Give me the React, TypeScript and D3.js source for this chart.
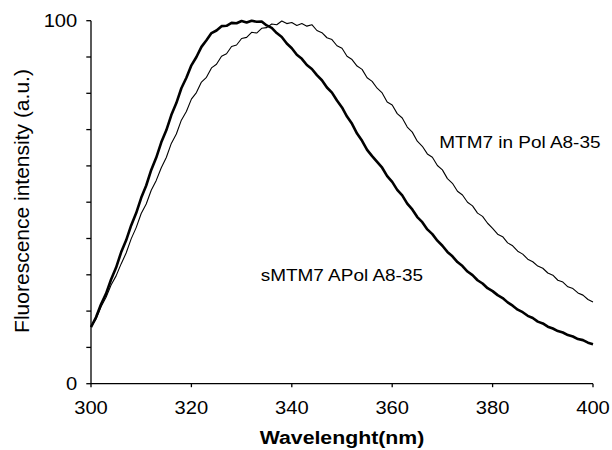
import React from "react";
import * as d3 from "d3";

const wavelengths: number[] = d3.range(300, 401, 1);

const sMTM7APol: number[] = [
  15.6, 18.3, 21.9, 24.8, 28.7, 32.0, 36.2, 39.5, 43.6, 47.0,
  51.2, 54.6, 58.9, 62.3, 66.5, 69.8, 74.0, 77.3, 81.4, 84.3,
  87.7, 90.0, 92.8, 94.6, 96.6, 97.3, 98.5, 98.6, 99.4, 99.3,
  99.9, 99.5, 100, 99.7, 99.8, 98.7, 98.0, 96.6, 95.5, 93.7,
  92.4, 90.6, 89.5, 87.8, 86.7, 85.0, 83.6, 81.6, 80.2, 78.0,
  76.1, 73.6, 71.6, 68.9, 66.9, 64.4, 62.7, 61.1, 59.5, 57.2,
  55.6, 53.4, 51.9, 49.6, 48.0, 45.9, 44.5, 42.5, 41.2, 39.4,
  38.0, 36.3, 35.1, 33.5, 32.4, 30.9, 29.9, 28.5, 27.6, 26.3,
  25.5, 24.4, 23.6, 22.4, 21.5, 20.4, 19.7, 18.7, 18.1, 17.1,
  16.6, 15.7, 15.2, 14.5, 14.1, 13.4, 13.0, 12.3, 12.0, 11.3,
  10.9,
];

const MTM7inPol: number[] = [
  15.6, 17.8, 21.2, 23.8, 27.2, 29.7, 33.0, 36.0, 39.9, 43.0,
  46.9, 49.5, 53.3, 56.0, 59.5, 62.3, 66.2, 68.8, 72.6, 75.0,
  78.4, 80.2, 83.1, 84.4, 87.0, 88.0, 90.2, 90.9, 92.9, 93.3,
  95.1, 95.4, 96.8, 96.6, 97.9, 98.1, 99.1, 98.9, 99.9, 99.2,
  99.5, 98.7, 99.2, 98.5, 98.9, 97.3, 96.7, 95.3, 94.8, 93.1,
  92.4, 90.2, 89.3, 87.5, 86.6, 84.3, 83.3, 81.4, 80.1, 77.6,
  76.8, 74.4, 73.2, 70.7, 69.3, 66.8, 65.4, 63.3, 62.4, 60.1,
  58.9, 56.5, 55.2, 53.0, 52.0, 50.0, 49.0, 47.0, 46.1, 44.2,
  42.8, 41.2, 40.5, 38.8, 38.0, 36.5, 35.7, 34.3, 33.6, 32.4,
  31.8, 30.5, 29.9, 28.5, 28.0, 26.7, 26.2, 25.0, 24.4, 23.2,
  22.5,
];

const xTicks: number[] = [300, 320, 340, 360, 380, 400];
const yMinorTicks: number[] = d3.range(0, 101, 10);
const yTickLabels: number[] = [0, 100];
const seriesLabels: string[] = ["MTM7 in Pol A8-35", "sMTM7 APol A8-35"];
const xTitle = "Wavelenght(nm)";
const yTitle = "Fluorescence intensity (a.u.)";

const FONT = "'Liberation Sans', Arial, Helvetica, sans-serif";

export default function App() {
  const W = 612, H = 450;
  const x = d3.scaleLinear().domain([300, 400]).range([91, 593]);
  const y = d3.scaleLinear().domain([0, 100]).range([383.7, 20.7]);

  const line = d3
    .line<number>()
    .x((_, i) => x(wavelengths[i]))
    .y((d) => y(d))
    .curve(d3.curveLinear);

  const Stretched = ({ tx, ty, anchor, text, size = 16.5, sx = 1.15, weight = "normal" }: any) => (
    <g transform={`translate(${tx},${ty}) scale(${sx},1)`}>
      <text x={0} y={0} textAnchor={anchor} fontSize={size} fontWeight={weight} fontFamily={FONT} fill="#000">
        {text}
      </text>
    </g>
  );

  return (
    <svg width={W} height={H} style={{ position: "absolute", left: 0, top: 0, background: "#fff" }}>
      <rect x={0} y={0} width={W} height={H} fill="#fff" />
      {/* curves */}
      <path d={line(MTM7inPol) || ""} fill="none" stroke="#000" strokeWidth={1.1} strokeLinejoin="round" />
      <path d={line(sMTM7APol) || ""} fill="none" stroke="#000" strokeWidth={2.6} strokeLinejoin="round" />

      {/* axes */}
      <line x1={x(300)} x2={x(400)} y1={y(0)} y2={y(0)} stroke="#000" strokeWidth={1.3} />
      <line x1={x(300)} x2={x(300)} y1={y(0)} y2={y(100)} stroke="#000" strokeWidth={1.3} />
      {yMinorTicks.map((t) => (
        <line key={"yt" + t} x1={x(300) - 4.7} x2={x(300)} y1={y(t)} y2={y(t)} stroke="#000" strokeWidth={1.3} />
      ))}
      {xTicks.map((t) => (
        <line key={"xt" + t} x1={x(t)} x2={x(t)} y1={y(0)} y2={y(0) + 3.5} stroke="#000" strokeWidth={1.3} />
      ))}
      {xTicks.map((t) => (
        <Stretched key={"xl" + t} tx={x(t)} ty={414} anchor="middle" size={18} sx={1.12} text={String(t)} />
      ))}
      {yTickLabels.map((t) => (
        <Stretched key={"yl" + t} tx={77.3} ty={y(t) + 6.4} anchor="end" size={18} sx={1.12} text={String(t)} />
      ))}

      {/* series labels */}
      <Stretched tx={439.3} ty={148.3} anchor="start" text={seriesLabels[0]} />
      <Stretched tx={260.7} ty={280.7} anchor="start" text={seriesLabels[1]} />

      {/* axis titles */}
      <Stretched tx={342} ty={444} anchor="middle" size={19} sx={1.12} weight="bold" text={xTitle} />
      <text
        transform={`translate(28.5,201) rotate(-90)`}
        textAnchor="middle"
        fontSize={21}
        fontFamily={FONT}
        fill="#000"
      >
        {yTitle}
      </text>
    </svg>
  );
}
